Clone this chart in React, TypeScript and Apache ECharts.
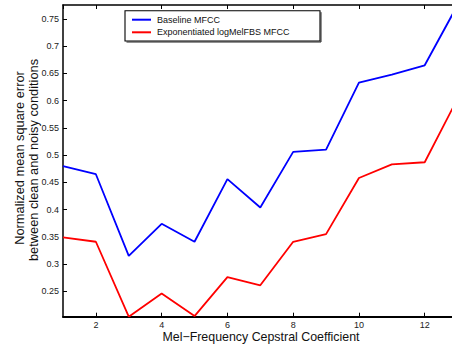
import React, { useEffect, useRef } from "react";
import * as echarts from "echarts";

// Cepstral coefficient index (1..13)
const coefficients = [1, 2, 3, 4, 5, 6, 7, 8, 9, 10, 11, 12, 13];

// Normalized MSE between clean and noisy conditions
const baselineMfcc = [0.48, 0.465, 0.315, 0.374, 0.341, 0.456, 0.404, 0.506, 0.51, 0.633, 0.648, 0.665, 0.7757];
const expLogMelFbsMfcc = [0.349, 0.341, 0.2034, 0.246, 0.2046, 0.276, 0.261, 0.341, 0.355, 0.458, 0.483, 0.487, 0.604];

const seriesNames = ["Baseline MFCC", "Exponentiated logMelFBS MFCC"];
const xTickValues = [2, 4, 6, 8, 10, 12];
const yTickLabels = ["0.25", "0.3", "0.35", "0.4", "0.45", "0.5", "0.55", "0.6", "0.65", "0.7", "0.75"];

// visible x window: the right edge of the axes box falls just past the canvas
const X_MIN = 1;
const X_MAX_VISIBLE = 12.83;

const FONT = "'Liberation Sans', Arial, Helvetica, sans-serif";

// legend frame
const LEG_X = 125;
const LEG_Y = 10.7;
const LEG_W = 195;
const LEG_H = 30.3;

export default function App() {
  const ref = useRef<HTMLDivElement>(null);

  useEffect(() => {
    if (!ref.current) return;
    const chart = echarts.init(ref.current, null, { renderer: "svg" });

    const yFmt = (v: number) => {
      const hit = yTickLabels.find((t) => Math.abs(parseFloat(t) - v) < 1e-6);
      return hit ?? "";
    };
    const xFmt = (v: number) => (xTickValues.some((t) => Math.abs(t - v) < 1e-6) ? String(v) : "");

    const yMin = Math.min(...expLogMelFbsMfcc, ...baselineMfcc);
    const yMax = Math.max(...expLogMelFbsMfcc, ...baselineMfcc);

    const tick = { inside: true, length: 4, lineStyle: { color: "#000", width: 1 } };

    chart.setOption({
      animation: false,
      backgroundColor: "#ffffff",
      textStyle: { fontFamily: FONT },
      grid: { left: 63, top: 5, right: 0, bottom: 30.3, containLabel: false },
      legend: {
        orient: "vertical",
        left: LEG_X,
        top: LEG_Y,
        data: seriesNames,
        icon: "rect",
        itemWidth: 19,
        itemHeight: 2,
        itemGap: 2.6,
        padding: [4, 0, 3.7, 7],
        borderWidth: 0,
        z: 10,
        textStyle: { fontSize: 9, color: "#111", fontFamily: FONT, lineHeight: 10, padding: [0, 0, 0, 1] },
      },
      xAxis: [
        {
          type: "value",
          min: X_MIN,
          max: X_MAX_VISIBLE,
          splitNumber: 6,
          position: "bottom",
          axisLine: { onZero: false, lineStyle: { color: "#000", width: 2 } },
          axisTick: tick,
          axisLabel: { formatter: xFmt, fontSize: 9, color: "#222", margin: 4, showMinLabel: false, showMaxLabel: false },
          splitLine: { show: false },
        },
        {
          type: "value",
          min: X_MIN,
          max: X_MAX_VISIBLE,
          splitNumber: 6,
          position: "top",
          axisLine: { onZero: false, lineStyle: { color: "#000", width: 1.5 } },
          axisTick: tick,
          axisLabel: { show: false },
          splitLine: { show: false },
        },
      ],
      yAxis: {
        type: "value",
        min: yMin,
        max: yMax,
        splitNumber: 11,
        axisLine: { show: true, lineStyle: { color: "#000", width: 1.5 } },
        axisTick: tick,
        axisLabel: { formatter: yFmt, fontSize: 9, color: "#222", margin: 4, showMinLabel: false, showMaxLabel: false },
        splitLine: { show: false },
      },
      graphic: [
        {
          type: "rect",
          z: 5,
          shape: { x: LEG_X, y: LEG_Y, width: LEG_W, height: LEG_H },
          style: { fill: "#fff", stroke: "#000", lineWidth: 1.1 },
        },
        {
          type: "polyline",
          z: 5,
          shape: {
            points: [
              [LEG_X + 1.5, LEG_Y + LEG_H + 1],
              [LEG_X + LEG_W + 1, LEG_Y + LEG_H + 1],
              [LEG_X + LEG_W + 1, LEG_Y + 1.5],
            ],
          },
          style: { fill: "none", stroke: "#222", lineWidth: 1 },
        },
        {
          type: "text",
          x: 19.5,
          y: 158,
          rotation: Math.PI / 2,
          style: {
            text: "Normalized mean square error",
            fontSize: 12.8,
            fontFamily: FONT,
            fill: "#111",
            align: "center",
            verticalAlign: "middle",
          },
        },
        {
          type: "text",
          x: 33,
          y: 160,
          rotation: Math.PI / 2,
          style: {
            text: "between clean and noisy conditions",
            fontSize: 12.8,
            fontFamily: FONT,
            fill: "#111",
            align: "center",
            verticalAlign: "middle",
          },
        },
        {
          type: "text",
          x: 261,
          y: 337,
          style: {
            text: "Mel\u2212Frequency Cepstral Coefficient",
            fontSize: 12.4,
            fontFamily: FONT,
            fill: "#111",
            align: "center",
            verticalAlign: "middle",
          },
        },
      ],
      series: [
        {
          name: seriesNames[0],
          type: "line",
          xAxisIndex: 0,
          data: coefficients.map((c, i) => [c, baselineMfcc[i]]),
          showSymbol: false,
          clip: true,
          lineStyle: { color: "#0000ff", width: 1.8 },
          itemStyle: { color: "#0000ff" },
        },
        {
          name: seriesNames[1],
          type: "line",
          xAxisIndex: 0,
          data: coefficients.map((c, i) => [c, expLogMelFbsMfcc[i]]),
          showSymbol: false,
          clip: true,
          lineStyle: { color: "#ff0000", width: 1.8 },
          itemStyle: { color: "#ff0000" },
        },
      ],
    });

    return () => chart.dispose();
  }, []);

  return (
    <div
      ref={ref}
      style={{ position: "fixed", left: 0, top: 0, width: 452, height: 347, background: "#fff" }}
    />
  );
}
